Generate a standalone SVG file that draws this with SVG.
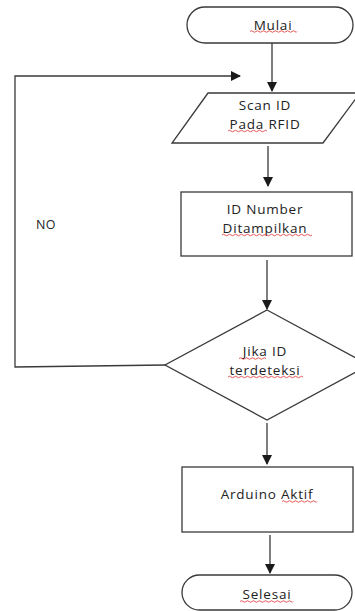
<svg xmlns="http://www.w3.org/2000/svg" width="355" height="611" viewBox="0 0 355 611">
<style>
.shape{fill:#fff;stroke:#3a3a3a;stroke-width:1.3}
.line{fill:none;stroke:#3a3a3a;stroke-width:1.3}
.t{font-family:"Open Sans","Liberation Sans",sans-serif;font-size:13.5px;fill:#222;text-anchor:middle;letter-spacing:0.8px}
.wave{fill:none;stroke:#e03030;stroke-width:0.8}
</style>
<defs>
<marker id="arr" markerWidth="10" markerHeight="10" refX="9" refY="5" orient="auto" markerUnits="userSpaceOnUse">
<path d="M0,0 L10,5 L0,10 Z" fill="#1a1a1a"/>
</marker>
</defs>
<rect width="355" height="611" fill="#fff"/>
<g id="connectors">
<line class="line" x1="272" y1="43" x2="272" y2="91" marker-end="url(#arr)"/>
<polyline class="line" points="165,365 15,367 15,76 240,76" marker-end="url(#arr)"/>
<line class="line" x1="268" y1="146" x2="268" y2="186" marker-end="url(#arr)"/>
<line class="line" x1="267" y1="260" x2="267" y2="309" marker-end="url(#arr)"/>
<line class="line" x1="267" y1="423" x2="267" y2="464" marker-end="url(#arr)"/>
<line class="line" x1="270" y1="535" x2="270" y2="573" marker-end="url(#arr)"/>
<text class="t" x="46" y="229" style="font-size:12.5px;letter-spacing:0.5px">NO</text>
</g>
<g id="mulai">
<rect class="shape" x="187" y="7" width="166" height="36" rx="18"/>
<text class="t" x="273" y="29.5">Mulai</text>
<path class="wave" d="M250,31.5 q1.5,-1.5 3,0 t3,0 t3,0 t3,0 t3,0 t3,0 t3,0 t3,0 t3,0 t3,0 t3,0 t3,0 t3,0 t3,0 t3,0 t2,0"/>
</g>
<g id="scan">
<polygon class="shape" points="208,93 360,93 323,143 172,143"/>
<text class="t" x="265" y="110">Scan ID</text>
<text class="t" x="265" y="128.5">Pada RFID</text>
<path class="wave" d="M228,131 q1.5,-1.5 3,0 t3,0 t3,0 t3,0 t3,0 t3,0 t3,0 t3,0 t3,0 t3,0 t3,0 t3,0 t3,0"/>
</g>
<g id="idnumber">
<rect class="shape" x="181" y="192" width="171" height="64"/>
<text class="t" x="265" y="214">ID Number</text>
<text class="t" x="265" y="232.5">Ditampilkan</text>
<path class="wave" d="M222,235 q1.5,-1.5 3,0 t3,0 t3,0 t3,0 t3,0 t3,0 t3,0 t3,0 t3,0 t3,0 t3,0 t3,0 t3,0 t3,0 t3,0 t3,0 t3,0 t3,0 t3,0 t3,0 t3,0 t3,0 t3,0 t3,0 t3,0 t3,0 t3,0 t3,0 t3,0 t3,0"/>
</g>
<g id="jika">
<polygon class="shape" points="267,310 369,365 267,420 165,365"/>
<text class="t" x="265" y="356">Jika ID</text>
<text class="t" x="265" y="374.5">terdeteksi</text>
<path class="wave" d="M239,358.5 q1.5,-1.5 3,0 t3,0 t3,0 t3,0 t3,0 t3,0 t3,0 t3,0 t3,0"/>
<path class="wave" d="M228,377 q1.5,-1.5 3,0 t3,0 t3,0 t3,0 t3,0 t3,0 t3,0 t3,0 t3,0 t3,0 t3,0 t3,0 t3,0 t3,0 t3,0 t3,0 t3,0 t3,0 t3,0 t3,0 t3,0 t3,0 t3,0 t3,0 t3,0"/>
</g>
<g id="arduino">
<rect class="shape" x="182" y="467" width="171" height="65"/>
<text class="t" x="267" y="499">Arduino Aktif</text>
<path class="wave" d="M282,501.5 q1.5,-1.5 3,0 t3,0 t3,0 t3,0 t3,0 t3,0 t3,0 t3,0 t3,0 t3,0 t3,0 t2,0"/>
</g>
<g id="selesai">
<rect class="shape" x="182" y="575" width="170" height="35" rx="17.5"/>
<text class="t" x="267" y="599">Selesai</text>
<path class="wave" d="M240,601.5 q1.5,-1.5 3,0 t3,0 t3,0 t3,0 t3,0 t3,0 t3,0 t3,0 t3,0 t3,0 t3,0 t3,0 t3,0 t3,0 t3,0 t3,0 t3,0 t2,0"/>
</g>
</svg>
